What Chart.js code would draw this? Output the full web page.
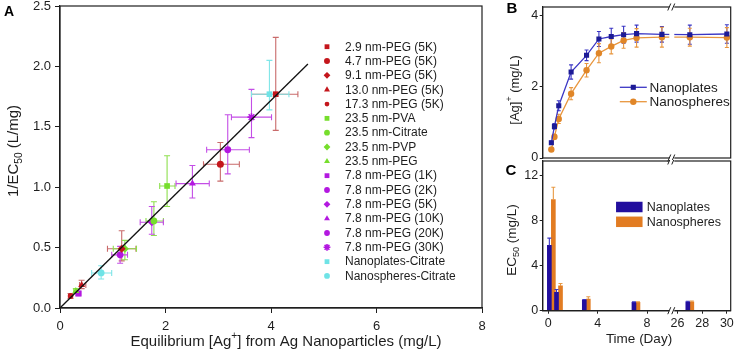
<!DOCTYPE html>
<html>
<head>
<meta charset="utf-8">
<script src="https://cdn.jsdelivr.net/npm/chart.js@4.4.1/dist/chart.umd.min.js"></script>
<style>
html, body { margin: 0; padding: 0; background: #fff; }
#wrap { position: relative; width: 736px; height: 351px; overflow: hidden; background: #fff; }
canvas { position: absolute; }
#cA { left: 0; top: 0; }
#cB { left: 490px; top: 0; }
#cC { left: 490px; top: 160px; }
</style>
</head>
<body>
<div id="wrap">
  <canvas id="cA" width="490" height="351"></canvas>
  <canvas id="cB" width="246" height="162"></canvas>
  <canvas id="cC" width="246" height="191"></canvas>
</div>
<script>
// ================= DATA : panel A =================
const seriesA = [
  '2.9 nm-PEG (5K)', '4.7 nm-PEG (5K)', '9.1 nm-PEG (5K)', '13.0 nm-PEG (5K)', '17.3 nm-PEG (5K)',
  '23.5 nm-PVA', '23.5 nm-Citrate', '23.5 nm-PVP', '23.5 nm-PEG',
  '7.8 nm-PEG (1K)', '7.8 nm-PEG (2K)', '7.8 nm-PEG (5K)', '7.8 nm-PEG (10K)', '7.8 nm-PEG (20K)', '7.8 nm-PEG (30K)',
  'Nanoplates-Citrate', 'Nanospheres-Citrate'
];
const agA    = [4.09, 3.04, 1.17, 0.41, 0.20, 2.03, 1.78, 1.23, 0.30, 0.35, 1.14, 1.74, 2.51, 3.18, 3.63, 3.97, 0.78];
const invA   = [1.77, 1.19, 0.49, 0.19, 0.10, 1.01, 0.72, 0.49, 0.14, 0.12, 0.44, 0.71, 1.03, 1.31, 1.58, 1.77, 0.29];
const agLoA  = [3.63, 2.72, 0.90, 0.37, 0.17, 1.89, 1.63, 1.01, 0.26, 0.30, 0.98, 1.52, 2.20, 2.78, 3.25, 3.63, 0.60];
const agHiA  = [4.51, 3.40, 1.44, 0.49, 0.23, 2.18, 1.96, 1.45, 0.34, 0.40, 1.28, 1.96, 2.83, 3.59, 4.01, 4.34, 0.98];
const invLoA = [1.47, 1.05, 0.39, 0.16, 0.08, 0.84, 0.60, 0.40, 0.12, 0.10, 0.37, 0.61, 0.91, 1.11, 1.41, 1.64, 0.24];
const invHiA = [2.24, 1.37, 0.64, 0.23, 0.12, 1.26, 0.88, 0.56, 0.16, 0.14, 0.51, 0.84, 1.18, 1.60, 1.81, 2.05, 0.35];
const fitX = [0, 4.7];
const fitY = [0, 2.02];

// ================= DATA : panels B, C =================
const dayTicks = [0, 4, 8, 26, 28, 30];
const dayB = [0.25, 0.5, 0.85, 1.85, 3.1, 4.1, 5.1, 6.1, 7.15, 9.2, 27, 30];
const platesAg     = [0.43, 0.89, 1.47, 2.42, 2.89, 3.35, 3.42, 3.47, 3.50, 3.48, 3.47, 3.49];
const platesAgErr  = [0.05, 0.08, 0.14, 0.20, 0.15, 0.21, 0.23, 0.24, 0.24, 0.22, 0.27, 0.26];
const spheresAg    = [0.24, 0.60, 1.10, 1.81, 2.47, 2.95, 3.14, 3.31, 3.38, 3.40, 3.40, 3.39];
const spheresAgErr = [0.03, 0.07, 0.13, 0.17, 0.19, 0.27, 0.21, 0.22, 0.26, 0.28, 0.25, 0.28];

const dayC = [0.25, 0.83, 3.08, 7.1, 27];
const platesEc50     = [5.80, 1.64, 0.95, 0.75, 0.78];
const platesEc50Err  = [0.65, 0.25, 0.05, 0.03, 0.06];
const spheresEc50    = [9.87, 2.20, 1.04, 0.75, 0.78];
const spheresEc50Err = [1.10, 0.22, 0.20, 0.03, 0.08];

// ================= STYLE =================
const FAMILY = "'Liberation Sans', Arial, Helvetica, sans-serif";
const INK = '#1e1e1e';
Chart.defaults.font.family = FAMILY;
Chart.defaults.color = INK;

const markerA = ['rect', 'circle', 'rectRot', 'triangle', 'circle',
  'rect', 'circle', 'rectRot', 'triangle',
  'rect', 'circle', 'rectRot', 'triangle', 'circle', 'star',
  'rect', 'circle'];
const radiusA = [4, 3.5, 4, 4, 2.8, 4, 3.4, 4, 4, 4, 3.4, 4, 4, 3.4, 4, 4, 3.4];
const groupA  = [0, 0, 0, 0, 0, 1, 1, 1, 1, 2, 2, 2, 2, 2, 2, 3, 3];
const fillByGroup = ['#c4161c', '#76de2c', '#b318e0', '#6fe3e6'];
const errByGroup  = ['#c96b6b', '#8ee04e', '#c44ee6', '#7fe6e8'];

// broken time axis: 26..30 days shifted next to the first segment
const BREAK_SHIFT = 15.54;
const BREAK_AT = 10.0;
function mapDay(d) { return d >= 20 ? d - BREAK_SHIFT : d; }

// ================= PLUGINS =================
function drawRich(ctx, parts, cx, cy, size, rotate) {
  const main = size + 'px ' + FAMILY;
  const small = (size * 0.68).toFixed(1) + 'px ' + FAMILY;
  ctx.save();
  ctx.translate(cx, cy);
  if (rotate) ctx.rotate(-Math.PI / 2);
  let w = 0;
  parts.forEach(p => { ctx.font = (p.sub || p.sup) ? small : main; w += ctx.measureText(p.t).width; });
  let x = -w / 2;
  ctx.textAlign = 'left';
  ctx.textBaseline = 'middle';
  ctx.fillStyle = INK;
  parts.forEach(p => {
    ctx.font = (p.sub || p.sup) ? small : main;
    const dy = p.sub ? size * 0.32 : p.sup ? -size * 0.38 : 0;
    ctx.fillText(p.t, x, dy);
    x += ctx.measureText(p.t).width;
  });
  ctx.restore();
}

const decor = {
  id: 'decor',
  afterDatasetsDraw(chart, args, o) {
    // gap in the plotted line where the time axis is broken
    if (o.brk && o.brk.cutPlot) {
      const { ctx, chartArea: a } = chart;
      const px = chart.scales.x.getPixelForValue(BREAK_AT);
      ctx.save();
      ctx.fillStyle = '#fff';
      ctx.fillRect(px - 2.5, a.top, 5, a.bottom - a.top);
      ctx.restore();
    }
  },
  afterDraw(chart, args, o) {
    const { ctx, chartArea: a } = chart;
    // frame
    ctx.save();
    ctx.strokeStyle = INK;
    ctx.lineWidth = 1.2;
    ctx.strokeRect(a.left, a.top, a.right - a.left, a.bottom - a.top);
    ctx.restore();
    // axis break marks
    if (o.brk) {
      const px = chart.scales.x.getPixelForValue(BREAK_AT);
      ctx.save();
      ctx.fillStyle = '#fff';
      ctx.fillRect(px - 2.5, a.top - 2, 5, 4);
      ctx.fillRect(px - 2.5, a.bottom - 2, 5, 4);
      ctx.strokeStyle = INK;
      ctx.lineWidth = 1;
      [a.top, a.bottom].forEach(yy => {
        [-2.5, 1.5].forEach(dx => {
          ctx.beginPath();
          ctx.moveTo(px + dx - 1.5, yy + 3.5);
          ctx.lineTo(px + dx + 1.5, yy - 3.5);
          ctx.stroke();
        });
      });
      ctx.restore();
    }
    // panel letter
    ctx.save();
    ctx.font = 'bold ' + o.letter.size + 'px ' + FAMILY;
    ctx.fillStyle = '#000';
    ctx.textAlign = 'center';
    ctx.textBaseline = 'middle';
    ctx.fillText(o.letter.t, o.letter.x, o.letter.y);
    ctx.restore();
    // axis titles
    if (o.xTitle) drawRich(ctx, o.xTitle.parts, o.xTitle.x, o.xTitle.y, o.xTitle.size, false);
    if (o.yTitle) drawRich(ctx, o.yTitle.parts, o.yTitle.x, o.yTitle.y, o.yTitle.size, true);
  }
};

function drawErrors(chart, o) {
  const { ctx, scales: { x, y } } = chart;
  chart.data.datasets.forEach((ds, i) => {
    if (!ds.err) return;
    const meta = chart.getDatasetMeta(i);
    ctx.save();
    ctx.strokeStyle = ds.errColor;
    ctx.lineWidth = 1.1;
    meta.data.forEach((el, j) => {
      const e = ds.err[j];
      const cx = el.x, cy = el.y, c = o.cap;
      ctx.beginPath();
      if (e.yHi !== undefined) {
        const yh = y.getPixelForValue(e.yHi);
        const yl = e.yLo !== undefined ? y.getPixelForValue(e.yLo) : cy;
        ctx.moveTo(cx, yl); ctx.lineTo(cx, yh);
        ctx.moveTo(cx - c, yh); ctx.lineTo(cx + c, yh);
        if (e.yLo !== undefined) { ctx.moveTo(cx - c, yl); ctx.lineTo(cx + c, yl); }
      }
      if (e.xHi !== undefined) {
        const xl = x.getPixelForValue(e.xLo), xh = x.getPixelForValue(e.xHi);
        ctx.moveTo(xl, cy); ctx.lineTo(xh, cy);
        ctx.moveTo(xl, cy - c); ctx.lineTo(xl, cy + c);
        ctx.moveTo(xh, cy - c); ctx.lineTo(xh, cy + c);
      }
      ctx.stroke();
    });
    ctx.restore();
  });
}

const errorBars = {
  id: 'errorBars',
  beforeDatasetsDraw(chart, args, o) { if (o.under) drawErrors(chart, o); },
  afterDatasetsDraw(chart, args, o) { if (!o.under) drawErrors(chart, o); }
};

function marker(ctx, style, r, x, y, bw) {
  if (Chart.helpers && Chart.helpers.drawPoint) {
    Chart.helpers.drawPoint(ctx, { pointStyle: style, radius: r, rotation: 0, borderWidth: bw }, x, y);
  } else {
    ctx.beginPath(); ctx.arc(x, y, r, 0, Math.PI * 2); ctx.fill();
  }
}

const legendBox = {
  id: 'legendBox',
  afterDraw(chart, args, o) {
    const ctx = chart.ctx;
    let k = 0;
    chart.data.datasets.forEach(ds => {
      if (ds.noLegend) return;
      const yy = o.top + k * o.step;
      k++;
      ctx.save();
      if (o.kind === 'marker') {
        ctx.fillStyle = ds.backgroundColor;
        ctx.strokeStyle = ds.borderColor;
        ctx.lineWidth = ds.borderWidth || 0;
        marker(ctx, ds.pointStyle, ds.pointRadius * 0.85, o.markX, yy, ds.borderWidth || 0);
      } else if (o.kind === 'line') {
        ctx.strokeStyle = ds.borderColor;
        ctx.lineWidth = ds.borderWidth;
        ctx.beginPath(); ctx.moveTo(o.markX - o.len / 2, yy); ctx.lineTo(o.markX + o.len / 2, yy); ctx.stroke();
        ctx.fillStyle = ds.pointBackgroundColor;
        marker(ctx, ds.pointStyle, ds.pointRadius, o.markX, yy, 0);
      } else {
        ctx.fillStyle = ds.backgroundColor;
        ctx.fillRect(o.markX - o.len / 2, yy - o.boxH / 2, o.len, o.boxH);
      }
      ctx.fillStyle = INK;
      ctx.font = o.size + 'px ' + FAMILY;
      ctx.textAlign = 'left';
      ctx.textBaseline = 'middle';
      ctx.fillText(ds.label, o.textX, yy + 0.5);
      ctx.restore();
    });
  }
};

function fixedBox(size, vertical) {
  return s => {
    if (vertical) { s.width = size; s.paddingTop = 0; s.paddingBottom = 0; }
    else { s.height = size; s.paddingLeft = 0; s.paddingRight = 0; }
  };
}

// ================= CHART A =================
const datasetsA = seriesA.map((name, i) => ({
  type: 'scatter',
  label: name,
  data: [{ x: agA[i], y: invA[i] }],
  pointStyle: markerA[i],
  pointRadius: radiusA[i],
  pointHoverRadius: radiusA[i],
  backgroundColor: fillByGroup[groupA[i]],
  borderColor: fillByGroup[groupA[i]],
  borderWidth: markerA[i] === 'star' ? 1.6 : 0,
  errColor: errByGroup[groupA[i]],
  err: [{ xLo: agLoA[i], xHi: agHiA[i], yLo: invLoA[i], yHi: invHiA[i] }]
}));
datasetsA.push({
  type: 'line',
  label: 'fit',
  noLegend: true,
  data: fitX.map((v, i) => ({ x: v, y: fitY[i] })),
  borderColor: '#111',
  borderWidth: 1.3,
  pointRadius: 0,
  order: -1
});

new Chart(document.getElementById('cA'), {
  type: 'scatter',
  data: { datasets: datasetsA },
  options: {
    responsive: false,
    animation: false,
    events: [],
    layout: { padding: { top: 6, right: 8, left: 0, bottom: 0 } },
    plugins: {
      legend: { display: false },
      tooltip: { enabled: false },
      errorBars: { under: true, cap: 3 },
      legendBox: { kind: 'marker', markX: 327, textX: 345, top: 46.7, step: 14.33, size: 12 },
      decor: {
        letter: { t: 'A', x: 9, y: 12, size: 14 },
        xTitle: { parts: [{ t: 'Equilibrium [Ag' }, { t: '+', sup: true }, { t: '] from Ag Nanoparticles (mg/L)' }], x: 286, y: 341.5, size: 15 },
        yTitle: { parts: [{ t: '1/EC' }, { t: '50', sub: true }, { t: ' (L/mg)' }], x: 14, y: 151, size: 15 }
      }
    },
    scales: {
      x: {
        type: 'linear', min: 0, max: 8,
        ticks: { stepSize: 2, font: { size: 13 }, padding: 6, includeBounds: false },
        grid: { drawOnChartArea: false, tickLength: 5, color: INK },
        border: { color: INK, width: 1.2 },
        afterFit: fixedBox(43, false)
      },
      y: {
        min: 0, max: 2.5,
        ticks: { stepSize: 0.5, font: { size: 13 }, padding: 4, includeBounds: false, callback: v => v.toFixed(1) },
        grid: { drawOnChartArea: false, tickLength: 5, color: INK },
        border: { color: INK, width: 1.2 },
        afterFit: fixedBox(60, true)
      }
    }
  },
  plugins: [errorBars, legendBox, decor]
});

// ================= CHART B =================
function seriesB(label, values, errs, line, fill, style, radius) {
  return {
    label,
    data: dayB.map((d, i) => ({ x: mapDay(d), y: values[i] })),
    borderColor: line,
    borderWidth: 1.3,
    pointStyle: style,
    pointRadius: radius,
    pointBackgroundColor: fill,
    pointBorderWidth: 0,
    errColor: line,
    err: values.map((v, i) => ({ yLo: v - errs[i], yHi: v + errs[i] }))
  };
}

new Chart(document.getElementById('cB'), {
  type: 'line',
  data: {
    datasets: [
      seriesB('Nanoplates', platesAg, platesAgErr, '#3b36c4', '#1c1a96', 'rect', 3.6),
      seriesB('Nanospheres', spheresAg, spheresAgErr, '#e8963e', '#e08628', 'circle', 3.2)
    ]
  },
  options: {
    responsive: false,
    animation: false,
    events: [],
    layout: { padding: { top: 7, right: 5.3, left: 0, bottom: 0 } },
    plugins: {
      legend: { display: false },
      tooltip: { enabled: false },
      errorBars: { under: true, cap: 2 },
      legendBox: { kind: 'line', markX: 143.3, len: 27, textX: 159.5, top: 87.3, step: 14.4, size: 13.5 },
      decor: {
        brk: { cutPlot: true },
        letter: { t: 'B', x: 22, y: 8.5, size: 15 },
        yTitle: { parts: [{ t: '[Ag]' }, { t: '+', sup: true }, { t: ' (mg/L)' }], x: 25, y: 90, size: 13 }
      }
    },
    scales: {
      x: {
        type: 'linear', min: -0.45, max: 14.77,
        ticks: { display: false },
        grid: { display: false },
        border: { display: false },
        afterFit: fixedBox(3.5, false)
      },
      y: {
        min: 0, max: 4.25,
        ticks: { stepSize: 2, font: { size: 12.5 }, padding: 1.5, includeBounds: false },
        grid: { drawOnChartArea: false, tickLength: 3, color: INK },
        border: { color: INK, width: 1.2 },
        afterFit: fixedBox(52.7, true)
      }
    }
  },
  plugins: [errorBars, legendBox, decor]
});

// ================= CHART C =================
function seriesC(label, values, errs, fill, errColor) {
  return {
    label,
    data: dayC.map((d, i) => ({ x: mapDay(d), y: values[i] })),
    backgroundColor: fill,
    barThickness: 4,
    errColor,
    err: values.map((v, i) => ({ yHi: v + errs[i] }))
  };
}

new Chart(document.getElementById('cC'), {
  type: 'bar',
  data: {
    datasets: [
      seriesC('Nanoplates', platesEc50, platesEc50Err, '#220e9e', '#3b36c4'),
      seriesC('Nanospheres', spheresEc50, spheresEc50Err, '#e27c22', '#e89a45')
    ]
  },
  options: {
    responsive: false,
    animation: false,
    events: [],
    layout: { padding: { top: 1, right: 5.3, left: 0, bottom: 0 } },
    plugins: {
      legend: { display: false },
      tooltip: { enabled: false },
      errorBars: { under: false, cap: 2 },
      legendBox: { kind: 'box', markX: 139.3, len: 26.5, boxH: 10.5, textX: 156.7, top: 47, step: 14.8, size: 12.5 },
      decor: {
        brk: { cutPlot: false },
        letter: { t: 'C', x: 21, y: 11, size: 15 },
        xTitle: { parts: [{ t: 'Time (Day)' }], x: 149, y: 179.3, size: 13.5 },
        yTitle: { parts: [{ t: 'EC' }, { t: '50', sub: true }, { t: ' (mg/L)' }], x: 22, y: 80, size: 13.5 }
      }
    },
    scales: {
      x: {
        type: 'linear', min: -0.45, max: 14.77, offset: false,
        afterBuildTicks: s => { s.ticks = dayTicks.map(d => ({ value: mapDay(d) })); },
        ticks: { autoSkip: false, maxRotation: 0, font: { size: 12.5 }, padding: 2, callback: (v, i) => dayTicks[i] },
        grid: { offset: false, drawOnChartArea: false, tickLength: 3, color: INK },
        border: { color: INK, width: 1.2 },
        afterFit: fixedBox(40.3, false)
      },
      y: {
        min: 0, max: 13.3,
        ticks: { stepSize: 4, font: { size: 12.5 }, padding: 1.5, includeBounds: false },
        grid: { drawOnChartArea: false, tickLength: 3, color: INK },
        border: { color: INK, width: 1.2 },
        afterFit: fixedBox(52.7, true)
      }
    }
  },
  plugins: [errorBars, legendBox, decor]
});
</script>
</body>
</html>
